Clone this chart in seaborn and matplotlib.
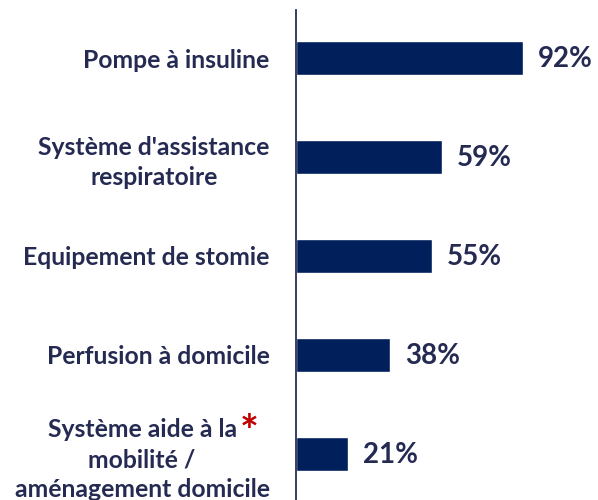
import matplotlib
matplotlib.use("Agg")
import matplotlib.pyplot as plt
import seaborn as sns
import pandas as pd

categories = ["Pompe à insuline",
              "Système d'assistance\nrespiratoire",
              "Equipement de stomie",
              "Perfusion à domicile",
              "Système aide à la\nmobilité /\naménagement domicile"]
values = [92, 59, 55, 38, 21]
value_labels = ["92%", "59%", "55%", "38%", "21%"]

sns.set_theme(style="white")
plt.rcParams['font.family'] = ['Lato', 'DejaVu Sans']

BAR = "#001f5b"
TXT = "#252a52"

df = pd.DataFrame({"cat": categories, "val": values})

fig = plt.figure(figsize=(5.98, 5.0), dpi=100)
ax = fig.add_axes([296/598, 0.0, 296/598, 0.98])
sns.barplot(data=df, x="val", y="cat", color=BAR, width=0.345, ax=ax, saturation=1)

ax.set_xlim(0, 120)
ax.set_ylim(4.465, -0.485)
for s in ["top", "right", "bottom"]:
    ax.spines[s].set_visible(False)
ax.spines["left"].set_color("#2a2f55")
ax.spines["left"].set_linewidth(1.3)
ax.set_xticks([])
ax.set_xlabel("")
ax.set_ylabel("")
ax.tick_params(axis="y", length=0, pad=19)
for t in ax.get_yticklabels():
    t.set_fontsize(17.8)
    t.set_fontweight("bold")
    t.set_color(TXT)
    t.set_multialignment("center")
    t.set_linespacing(1.38)

for i, (v, lab) in enumerate(zip(values, value_labels)):
    ax.annotate(lab, xy=(v, i), xytext=(11, -1), textcoords="offset points",
                va="center", ha="left", fontsize=20, fontweight="bold", color=TXT)

ax.annotate("*", xy=(0, 4), xycoords=("axes fraction", "data"),
            xytext=(-34, 15), textcoords="offset points",
            ha="center", va="center", fontsize=32, fontweight="bold", color="#c00000")

fig.savefig("out.png", dpi=100)
